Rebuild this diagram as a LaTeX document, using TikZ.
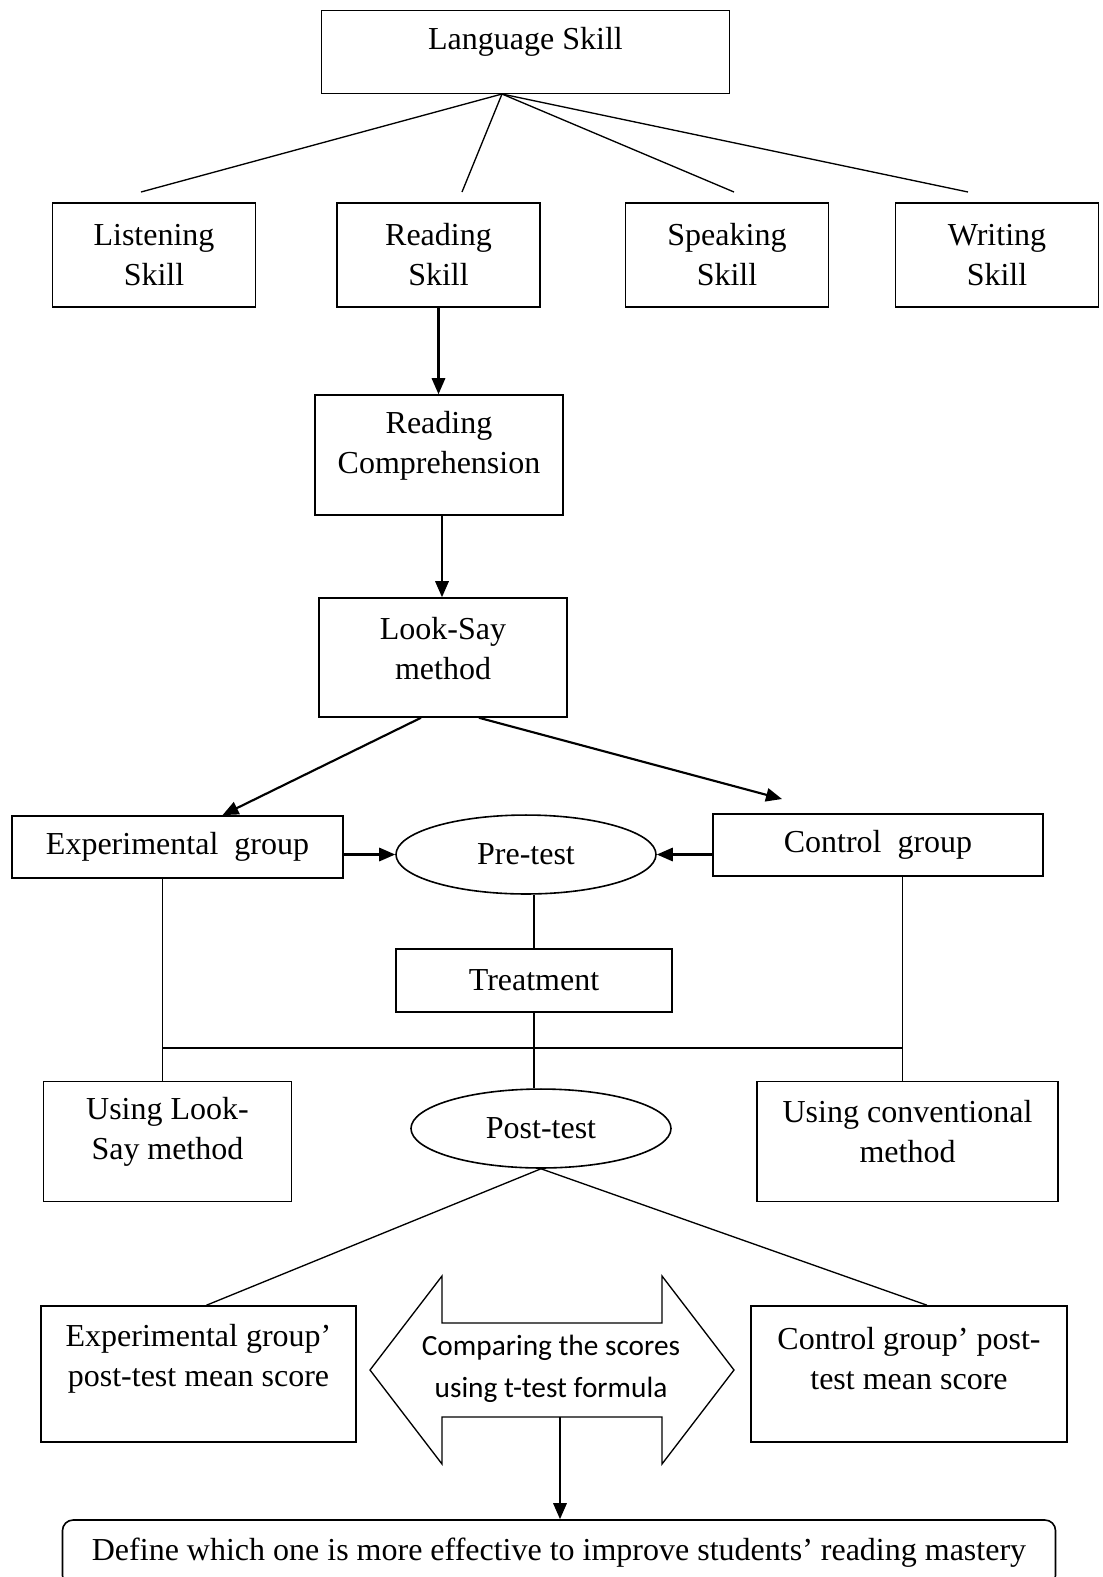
\documentclass[tikz,border=0pt]{standalone}
\usepackage{fontspec}
\setmainfont{Liberation Serif}
\newfontfamily\cmpfont{Carlito}
\usetikzlibrary{calc,arrows.meta,shapes.geometric}

\begin{document}
\begin{tikzpicture}[x=0.375pt,y=-0.375pt,
  font=\fontsize{12}{15}\selectfont,
  box/.style={draw, line width=0.6pt, inner sep=0pt, align=center},
  oval/.style={draw, ellipse, line width=0.6pt, inner sep=0pt},
  link/.style={line width=0.5pt},
  flow/.style={line width=0.8pt, -{Triangle[length=6pt,width=5pt]}}]
\clip (0,0) rectangle (1102,1577);

\node[box, minimum width=153pt, minimum height=31pt] (lang) at (525.5,52) {};
\node (langtxt) at (525.5,42) {Language Skill};
\coordinate (fan) at (502,94);
\coordinate (toA) at (141,192);
\coordinate (toB) at (462,192);
\coordinate (toC) at (734,192);
\coordinate (toD) at (968,192);
\draw[link] (fan) -- (toA);
\draw[link] (fan) -- (toB);
\draw[link] (fan) -- (toC);
\draw[link] (fan) -- (toD);

\node[box, minimum width=76pt, minimum height=39pt] (listen) at (154,255) {Listening\\Skill};
\node[box, minimum width=76pt, minimum height=39pt] (read) at (438.5,255) {Reading\\Skill};
\node[box, minimum width=76pt, minimum height=39pt] (speak) at (727,255) {Speaking\\Skill};
\node[box, minimum width=76pt, minimum height=39pt] (write) at (997,255) {Writing\\Skill};

\node[box, minimum width=93pt, minimum height=45pt] (comp) at (439,455) {};
\node[align=center] (comptxt) at (439,446) {Reading\\Comprehension};
\draw[flow] (read.south) -- (read.south |- comp.north);

\node[box, minimum width=93pt, minimum height=44.6pt] (look) at (443,657.5) {};
\node[align=center] (looktxt) at (443,648.5) {Look-Say\\method};
\draw[flow] ($(comp.south)+(3,0)$) -- ($(look.north)+(-1,0)$);

\node[box, minimum width=124pt, minimum height=23.3pt] (exp) at (177.5,847) {Experimental~ group};
\node[box, minimum width=123.75pt, minimum height=23.3pt] (ctrl) at (878,845) {Control~ group};
\node[oval, minimum width=97.5pt, minimum height=29.6pt] (pre) at (526,854.5) {Pre-test};
\coordinate (ctrlin) at (782,799);
\draw[flow] ($(look.south)+(-22,0)$) -- ($(exp.north)+(45,0)$);
\draw[flow] ($(look.south)+(36,0)$) -- (ctrlin);
\draw[flow] (exp.east |- pre) -- (pre.west);
\draw[flow] (ctrl.west |- pre) -- (pre.east);

\node[box, minimum width=103.5pt, minimum height=23.6pt] (treat) at (534,980.5) {Treatment};
\draw[link] (pre.south -| treat.north) -- (treat.north);

\node[box, minimum width=93pt, minimum height=45pt] (uselook) at (167.5,1141.5) {};
\node[align=center] (uselooktxt) at (167.5,1132) {Using Look-\\Say method};
\node[box, minimum width=113pt, minimum height=45pt] (useconv) at (907.5,1141.5) {};
\node[align=center] (useconvtxt) at (907.5,1132) {Using conventional\\method};
\node[oval, minimum width=97.5pt, minimum height=29.6pt] (post) at (541,1128.5) {Post-test};
\coordinate (bar) at (0,1048);
\draw[link] ($(exp.south -| uselook.north)+(-5,0)$) -- ($(uselook.north)+(-5,0)$);
\draw[link] ($(ctrl.south -| useconv.north)+(-5,0)$) -- ($(useconv.north)+(-5,0)$);
\draw[link] ($(uselook.north |- bar)+(-5,0)$) -- ($(useconv.north |- bar)+(-5,0)$);
\draw[link] (treat.south) -- (treat.south |- post.north);

\node[box, minimum width=118pt, minimum height=51pt] (expmean) at (198.5,1374) {};
\node[align=center] (expmeantxt) at (198.5,1359) {Experimental group'\\post-test mean score};
\node[box, minimum width=118.5pt, minimum height=51pt] (ctrlmean) at (909,1374) {};
\node[align=center] (ctrlmeantxt) at (909,1359) {Control group' post-\\test mean score};
\draw[link] (post.south) -- ($(expmean.north)+(8,0)$);
\draw[link] (post.south) -- ($(ctrlmean.north)+(18,0)$);

\coordinate (cmpc) at (552,1370);
\draw[link] (cmpc) ++(-182,0) -- ++(72,-94) -- ++(0,47) -- ++(220,0) -- ++(0,-47) -- ++(72,94)
  -- ++(-72,94) -- ++(0,-47) -- ++(-220,0) -- ++(0,47) -- cycle;
\node[align=center, font=\cmpfont\fontsize{11}{15.75}\selectfont] (cmp) at (551,1369) {Comparing the scores\\using t-test formula};

\node[box, rounded corners=4pt, minimum width=372.4pt, minimum height=24.75pt] (define) at (559,1553) {Define which one is more effective to improve students' reading mastery};
\coordinate (cmpb) at (560,1417);
\draw[flow] (cmpb) -- (cmpb |- define.north);
\end{tikzpicture}
\end{document}
